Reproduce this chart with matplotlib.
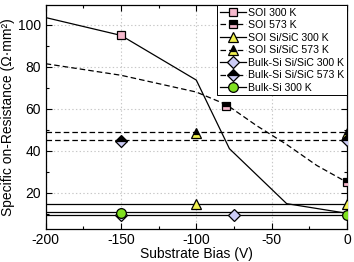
import matplotlib
matplotlib.use('Agg')
import matplotlib.pyplot as plt
from matplotlib.lines import Line2D
import numpy as np

plt.rcParams['font.family'] = ['Liberation Sans', 'DejaVu Sans']
plt.rcParams['lines.scale_dashes'] = False
plt.rcParams['axes.unicode_minus'] = False

# curves (lines only)
soi300_line_x = [-200, -150, -100, -78, -40, 0]
soi300_line_y = [103.5, 95, 73.7, 41, 14.8, 10.2]
soi573_line_x = [-200, -150, -100, -80, -60, -40, -20, 0]
soi573_line_y = [81.5, 76, 68, 62, 52, 43, 33, 25]
flat_x = [-200, 0]
soisic300_level = 14.6
soisic573_level = 49
bulksic300_level = 9.6
bulksic573_level = 45
bulk300_level = 10.9

# measured points (markers)
soi300_x, soi300_y = [-150], [95]
soi573_x, soi573_y = [-80, 0], [61.5, 25]
soisic300_x, soisic300_y = [-100, 0], [14.6, 14.6]
soisic573_x, soisic573_y = [-100, 0], [48.7, 48.7]
bulksic300_x, bulksic300_y = [-150, -75], [9.2, 9.4]
bulksic573_x, bulksic573_y = [-150, 0], [44.6, 45]
bulk300_x, bulk300_y = [-150, 0], [10.2, 9.5]

labels = ['SOI 300 K', 'SOI 573 K', 'SOI Si/SiC 300 K', 'SOI Si/SiC 573 K',
          'Bulk-Si Si/SiC 300 K', 'Bulk-Si Si/SiC 573 K', 'Bulk-Si 300 K']

pink = '#f5b8cc'
yellow = '#f0f050'
lav = '#ccccf5'
green = '#80e020'
dash = (0, (4, 2.2))
lw = 0.9

fig = plt.figure(figsize=(3.54, 2.62), dpi=100)
ax = fig.add_axes([0.129, 0.125, 0.851, 0.856])

# lines
ax.plot(soi300_line_x, soi300_line_y, color='k', lw=lw, zorder=2)
ax.plot(soi573_line_x, soi573_line_y, color='k', lw=lw, ls=dash, zorder=2)
ax.plot(flat_x, [soisic300_level] * 2, color='k', lw=lw, zorder=2)
ax.plot(flat_x, [soisic573_level] * 2, color='k', lw=lw, ls=dash, zorder=2)
ax.plot(flat_x, [bulksic300_level] * 2, color='k', lw=lw, zorder=2)
ax.plot(flat_x, [bulksic573_level] * 2, color='k', lw=lw, ls=dash, zorder=2)
ax.plot(flat_x, [bulk300_level] * 2, color='k', lw=lw, zorder=2)

# marker styles
styles = [
    dict(marker='s', ms=6, mfc=pink, mec='k', ls='-'),
    dict(marker='s', ms=6, mfc='k', mfcalt=pink, fillstyle='top', mec='k', ls=dash),
    dict(marker='^', ms=7, mfc=yellow, mec='k', ls='-'),
    dict(marker='^', ms=7, mfc='k', mfcalt=yellow, fillstyle='top', mec='k', ls=dash),
    dict(marker='D', ms=6, mfc=lav, mec='k', ls='-'),
    dict(marker='D', ms=6, mfc='k', mfcalt=lav, fillstyle='top', mec='k', ls=dash),
    dict(marker='o', ms=7, mfc=green, mec='k', ls='-'),
]
points = [(soi300_x, soi300_y), (soi573_x, soi573_y),
          (soisic300_x, soisic300_y), (soisic573_x, soisic573_y),
          (bulksic300_x, bulksic300_y), (bulksic573_x, bulksic573_y),
          (bulk300_x, bulk300_y)]

handles = []
for (px, py), st, lab in zip(points, styles, labels):
    st = dict(st)
    ls = st.pop('ls')
    alt = st.pop('mfcalt', None)
    kw = dict(st)
    if alt is not None:
        kw['markerfacecoloralt'] = alt
    ax.plot(px, py, ls='none', mew=0.9, zorder=4, **kw)
    handles.append(Line2D([0], [0], color='k', lw=lw, ls=ls, mew=0.9, **kw))

ax.set_xlim(-200, 0)
ax.set_ylim(2.6, 109.5)
ax.set_xticks([-200, -150, -100, -50, 0])
ax.set_yticks([20, 40, 60, 80, 100])
ax.set_xticks(np.arange(-175, 0, 50), minor=True)
ax.set_yticks(np.arange(10, 110, 20), minor=True)
ax.tick_params(which='both', direction='in', top=True, right=True,
               labelsize=10, width=0.8)
ax.tick_params(which='major', length=4)
ax.tick_params(which='minor', length=2.5)
ax.tick_params(axis='x', pad=3)
ax.grid(True, which='major', ls=':', color='#c8c8c8', lw=0.8)
for s in ax.spines.values():
    s.set_linewidth(0.9)

ax.set_xlabel('Substrate Bias (V)', fontsize=10, labelpad=0)
ax.set_ylabel('Specific on-Resistance (\u03a9\u00b7mm\u00b2)', fontsize=10,
              labelpad=2)

leg = ax.legend(handles, labels, loc='upper right', bbox_to_anchor=(1, 1),
                borderaxespad=0, fontsize=7.6, handlelength=2.5,
                handletextpad=0.2, labelspacing=0.24, borderpad=0.25,
                fancybox=False, framealpha=1, edgecolor='k')
leg.get_frame().set_linewidth(0.7)

fig.savefig('out.png', dpi=100)
